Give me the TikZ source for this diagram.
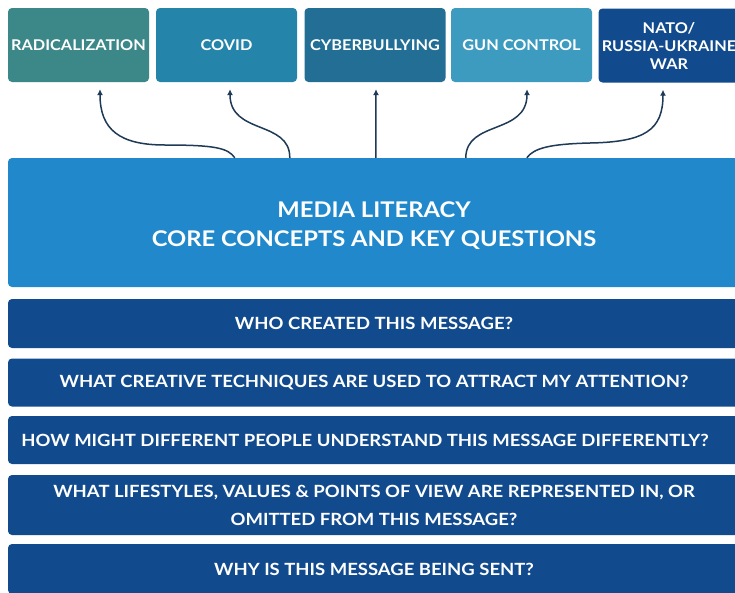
\documentclass[tikz,border=0pt]{standalone}
\usepackage{fontspec}
\setmainfont{Lato}[FakeStretch=1.1]
\usetikzlibrary{arrows.meta}
\definecolor{cA}{HTML}{3C8788}
\definecolor{cB}{HTML}{2584AA}
\definecolor{cC}{HTML}{226E95}
\definecolor{cD}{HTML}{3D9BC0}
\definecolor{cE}{HTML}{124B8D}
\definecolor{cMain}{HTML}{2189CB}
\definecolor{cBar}{HTML}{124B8D}
\definecolor{cArr}{HTML}{1E3A56}
\begin{document}
\begin{tikzpicture}[x=1pt,y=-1pt,
  topbox/.style={rounded corners=4pt, text=white, align=center, inner sep=0pt,
    minimum width=141pt, minimum height=74pt,
    font=\bfseries\fontsize{14.8}{18}\selectfont},
  mainbox/.style={rounded corners=4pt, fill=cMain, inner sep=0pt,
    minimum width=732pt, minimum height=129pt},
  maintitle/.style={text=white, align=center, inner sep=0pt,
    font=\bfseries\fontsize{21.6}{29}\selectfont},
  qbar/.style={rounded corners=4pt, fill=cBar, text=white, align=center, inner sep=0pt,
    minimum width=732pt, font=\bfseries\fontsize{16.8}{28}\selectfont},
  arr/.style={draw=cArr, line width=1.5pt, -{Latex[length=6pt,width=6pt]}}]
\useasboundingbox (0,0) rectangle (735,592);
\clip (0,0) rectangle (735,592);
\fill[white] (0,0) rectangle (735,592);
% top boxes
\node[topbox, fill=cA] (t1) at (78.5,45) {RADICALIZATION};
\node[topbox, fill=cB] (t2) at (226.5,45) {COVID};
\node[topbox, fill=cC] (t3) at (375,45) {CYBERBULLYING};
\node[topbox, fill=cD] (t4) at (521.5,45) {GUN CONTROL};
\node[topbox, fill=cE] (t5) at (669,45.5) {NATO/\\RUSSIA-UKRAINE\\WAR};
% main box
\node[mainbox] (main) at (374,222.5) {};
\node[maintitle] (mtext) at (374,225.5) {MEDIA LITERACY\\CORE CONCEPTS AND KEY QUESTIONS};
% question bars
\node[qbar, minimum height=49pt] (q1) at (374,323.5) {WHO CREATED THIS MESSAGE?};
\node[qbar, minimum height=48pt] (q2) at (374,382.5) {WHAT CREATIVE TECHNIQUES ARE USED TO ATTRACT MY ATTENTION?};
\node[qbar, minimum height=48pt] (q3) at (374,440) {HOW MIGHT DIFFERENT PEOPLE UNDERSTAND THIS MESSAGE DIFFERENTLY?\hspace*{18pt}};
\node[qbar, minimum height=60pt] (q4) at (374,505) {WHAT LIFESTYLES, VALUES \& POINTS OF VIEW ARE REPRESENTED IN, OR\\OMITTED FROM THIS MESSAGE?};
\node[qbar, minimum height=50pt] (q5) at (374,569) {WHY IS THIS MESSAGE BEING SENT?};
% connectors
\draw[arr] ([xshift=227pt]main.north west) .. controls (228,148) and (215,145) .. (165,145)
  .. controls (120,145) and (100,130) .. ([xshift=21.5pt,yshift=-7pt]t1.south);
\draw[arr] ([xshift=282pt]main.north west) .. controls (290,120) and (230,135) .. ([xshift=3.5pt,yshift=-7pt]t2.south);
\draw[arr] ([xshift=368pt]main.north west) -- ([xshift=1pt,yshift=-7pt]t3.south);
\draw[arr] ([xshift=458pt]main.north west) .. controls (466,120) and (527,135) .. ([xshift=5.5pt,yshift=-7pt]t4.south);
\draw[arr] ([xshift=519pt]main.north west) .. controls (534,148) and (550,144) .. (590,143)
  .. controls (645,142) and (663,130) .. ([xshift=-6pt,yshift=-7pt]t5.south);
\end{tikzpicture}
\end{document}
